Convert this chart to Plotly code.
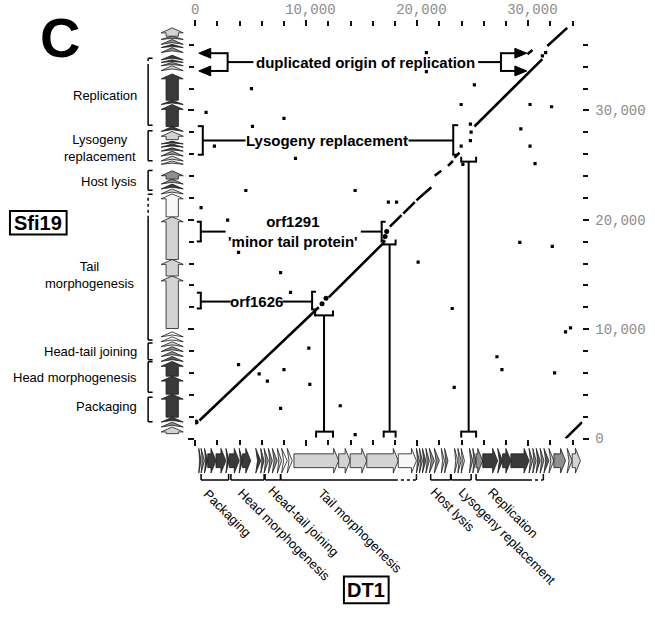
import plotly.graph_objects as go

W, H = 655, 622

# ---------------- data (base pairs) ----------------
# dot-plot matching segments: DT1 on x, Sfi19 on y
seg_dt1_start = [394, 12032, 17547, 18746, 19937, 21576, 22775, 23366, 25157, 29937, 31728, 33366]
seg_dt1_end = [11137, 16956, 18594, 19785, 21280, 22175, 23223, 23814, 31280, 30385, 33518, 34861]
seg_sfi_start = [1649, 12910, 19369, 20568, 21775, 24027, 24928, 25676, 28532, 35135, 35883, 0]
seg_sfi_end = [12009, 17865, 20423, 21622, 22973, 24477, 25378, 26126, 34685, 35523, 37541, 1505]

# isolated short matches
dot_dt1 = [20833, 20833, 5076, 25157, 985, 8004, 23966, 30170, 32113, 5166, 1737, 9042, 29338,
           30170, 30618, 4566, 14414, 537, 2927, 17404, 18147, 3912, 20089, 7699, 8594, 10242,
           3912, 5765, 8004, 6508, 10331, 7699, 13071, 14414, 32175, 33366, 33814, 32381, 29248,
           23161, 23339, 27189, 27637, 23966, 24799, 24861, 24799, 24118, 31280, 31575]
dot_sfi = [35288, 33541, 31982, 32342, 29820, 29279, 30541, 30541, 30333, 28532, 26730, 25613, 28315,
           26730, 25135, 22676, 22676, 21108, 19973, 21622, 21622, 17027, 16126, 15162, 13360, 8261,
           6757, 5919, 6306, 5252, 4955, 2766, 3000, 360, 17568, 9757, 10117, 6009, 17928,
           11892, 4685, 7477, 6306, 26730, 27234, 28018, 28739, 25072, 34982, 35288]
# strong short matches (blobs)
blob_dt1 = [90, 11432, 11791, 17252, 17117]
blob_sfi = [1505, 12315, 12820, 18919, 18468]

# axis ticks
x_tick_vals = [0, 10000, 20000, 30000]
x_tick_text = ["0", "\u00a010,000", "\u00a020,000", "\u00a030,000"]
y_tick_vals = [0, 10000, 20000, 30000]
y_tick_text = ["0", "10,000", "20,000", "30,000"]
minor_step = 2000
dt1_length = 34890
sfi_length = 37660

# DT1 gene map (all genes rightward)
dt1_gene_start = [331, 537, 842, 1137, 1880, 2775, 3080, 3975, 4270, 5461, 5909, 6213, 6598, 6956,
                  7404, 7789, 8299, 8899, 12928, 13966, 15461, 18299, 19937, 20206, 20474, 20788,
                  21101, 21549, 22176, 22471, 23366, 23670, 23966, 24709, 25013, 25309, 25909,
                  27251, 27699, 28442, 30081, 30412, 30725, 31083, 31424, 31871, 32319, 33518, 33966]
dt1_gene_end = [537, 842, 1137, 1880, 2775, 3080, 3975, 4270, 5013, 5909, 6213, 6598, 6956, 7404,
                7789, 8299, 8747, 12928, 13966, 15461, 18299, 19937, 20206, 20474, 20788, 21101,
                21549, 21997, 22471, 22776, 23670, 23966, 24261, 25013, 25309, 25909, 27251,
                27699, 28442, 30081, 30412, 30725, 31083, 31424, 31871, 32319, 33366, 33966, 34709]
dt1_gene_shade = ["M", "G", "D", "D", "D", "D", "D", "D", "D", "D", "M", "G", "G", "G",
                  "L", "W", "W", "L", "L", "L", "L", "W", "G", "G", "M", "G",
                  "G", "G", "L", "G", "L", "L", "L", "G", "G", "G", "D",
                  "D", "D", "D", "G", "G", "M", "G", "M", "L", "G", "L", "L"]

# Sfi19 gene map (all genes upward)
sfi_gene_start = [450, 1054, 1505, 1955, 4054, 5703, 7054, 7505, 7955, 8405, 8856, 9306, 10063,
                  14865, 16369, 20270, 22369, 22820, 23270, 23721, 25072, 25378, 25829, 26279,
                  26640, 26937, 27324, 28081, 28532, 30541, 30928, 33631, 34081, 34387, 34622,
                  35288, 35739, 36036, 36486, 36784]
sfi_gene_end = [1054, 1505, 1955, 4054, 5703, 7054, 7505, 7955, 8405, 8856, 9306, 9757, 14865,
                16369, 20270, 22369, 22820, 23270, 23721, 24477, 25378, 25829, 26279, 26577,
                26937, 27180, 28081, 28532, 30541, 30928, 33333, 34081, 34387, 34622, 35045,
                35739, 36036, 36486, 36784, 37541]
sfi_gene_shade = ["L", "G", "D", "D", "D", "D", "M", "G", "G", "L", "W", "W", "L",
                  "L", "L", "W", "L", "D", "G", "G", "L", "L", "G", "M",
                  "D", "D", "L", "D", "D", "D", "D", "L", "G", "D", "D",
                  "G", "D", "G", "G", "L"]

# functional modules
dt1_region_names = ["Packaging", "Head morphogenesis", "Head-tail joining", "Tail morphogenesis",
                    "Host lysis", "Lysogeny replacement", "Replication"]
dt1_region_start = [537, 3223, 6303, 7699, 21218, 23071, 25309]
dt1_region_end = [3017, 6213, 7699, 17995, 23008, 24862, 30080]
dt1_region_dotted_end = [None, None, None, 19937, None, None, 31370]

sfi_region_names = ["Packaging", "Head morphogenesis", "Head-tail joining", "Tail<br>morphogenesis",
                    "Host lysis", "Lysogeny<br>replacement", "Replication"]
sfi_region_start = [1532, 4234, 7207, 9009, 22703, 25405, 28649]
sfi_region_end = [3784, 7027, 8739, 20090, 24505, 28135, 33964]
sfi_region_dotted_end = [None, None, None, 22342, None, None, 34775]

# ---------------- styling / layout helpers ----------------
SHADE = {"D": "#3a3a3a", "M": "#5e5e5e", "G": "#8f8f8f", "L": "#d3d3d3", "W": "#f7f7f7"}
HEAD = 450
BODY = 0.28
FONT = "Liberation Sans"


def px(x):
    return x / W


def py(y):
    return 1 - y / H


def arrow_poly(s, e):
    L = e - s
    if L <= HEAD * 1.3:
        t = [s, e, s, s + 0.35 * L, s]
        u = [-0.5, 0, 0.5, 0, -0.5]
    else:
        h = e - HEAD
        t = [s, h, h, e, h, h, s, s]
        u = [-BODY, -BODY, -0.5, 0, 0.5, BODY, BODY, -BODY]
    return t, u


fig = go.Figure()

# genes DT1
for s, e, c in zip(dt1_gene_start, dt1_gene_end, dt1_gene_shade):
    t, u = arrow_poly(s, e)
    fig.add_trace(go.Scatter(x=t, y=u, xaxis="x", yaxis="y2", mode="lines", fill="toself",
                             fillcolor=SHADE[c], line=dict(color="#1c1c1c", width=0.8),
                             hoverinfo="skip"))
# genes Sfi19
for s, e, c in zip(sfi_gene_start, sfi_gene_end, sfi_gene_shade):
    t, u = arrow_poly(s, e)
    fig.add_trace(go.Scatter(x=u, y=t, xaxis="x2", yaxis="y", mode="lines", fill="toself",
                             fillcolor=SHADE[c], line=dict(color="#1c1c1c", width=0.8),
                             hoverinfo="skip"))

# diagonal matches
lx, ly = [], []
for a, b, c, d in zip(seg_dt1_start, seg_dt1_end, seg_sfi_start, seg_sfi_end):
    lx += [a, b, None]
    ly += [c, d, None]
fig.add_trace(go.Scatter(x=lx, y=ly, mode="lines", line=dict(color="black", width=2.6),
                         hoverinfo="skip"))
fig.add_trace(go.Scatter(x=dot_dt1, y=dot_sfi, mode="markers",
                         marker=dict(symbol="square", size=3.2, color="black"), hoverinfo="skip"))
fig.add_trace(go.Scatter(x=blob_dt1, y=blob_sfi, mode="markers",
                         marker=dict(symbol="circle", size=5, color="black"), hoverinfo="skip"))

shapes = []
annotations = []


def pline(x0, y0, x1, y1, w=2, dash="solid"):
    shapes.append(dict(type="line", xref="paper", yref="paper", x0=px(x0), y0=py(y0),
                       x1=px(x1), y1=py(y1), line=dict(color="black", width=w, dash=dash)))


def prect(x0, y0, x1, y1):
    shapes.append(dict(type="rect", xref="paper", yref="paper", x0=px(x0), y0=py(y0),
                       x1=px(x1), y1=py(y1), line=dict(color="black", width=2),
                       fillcolor="white"))


def ptri(tx, ty, direction):
    b = tx - 12 * direction
    path = "M {} {} L {} {} L {} {} Z".format(px(tx), py(ty), px(b), py(ty - 5), px(b), py(ty + 5))
    shapes.append(dict(type="path", xref="paper", yref="paper", path=path,
                       fillcolor="black", line=dict(color="black", width=1)))


def ptext(x, y, text, size=15, bold=True, xanchor="center"):
    annotations.append(dict(xref="paper", yref="paper", x=px(x), y=py(y), showarrow=False,
                            xanchor=xanchor, yanchor="middle", align="center",
                            text=("<b>%s</b>" % text) if bold else text,
                            font=dict(family=FONT, size=size, color="black")))


# --- duplicated origin of replication ---
for yy in (54, 72):
    ptri(196, yy, -1)
    pline(207, yy, 225, yy)
    ptri(526, yy, 1)
    pline(500, yy, 515, yy)
pline(225, 53, 225, 73)
pline(225, 63, 251, 63)
pline(477, 63, 500, 63)
pline(500, 53, 500, 73)
ptext(364, 63, "duplicated origin of replication")

# --- Lysogeny replacement ---
pline(200, 128, 200, 157); pline(195, 128, 201, 128); pline(195, 157, 201, 157)
pline(200, 142.5, 243, 142.5)
ptext(325, 142.5, "Lysogeny replacement")
pline(407, 142.5, 452, 142.5)
pline(452, 127, 452, 157); pline(451, 127, 457, 127); pline(451, 157, 457, 157)
pline(460, 164, 475, 164); pline(460, 159, 460, 165); pline(475, 159, 475, 165)
pline(467.5, 164, 467.5, 438)
pline(460, 438, 475, 438); pline(460, 437, 460, 444); pline(475, 437, 475, 444)

# --- orf1291 ---
pline(198, 225, 198, 245); pline(194, 225, 199, 225); pline(194, 245, 199, 245)
pline(198, 235, 223, 235)
ptext(291, 235, "orf1291<br>'minor tail protein'")
pline(359, 235, 380, 235)
pline(380, 225, 380, 245); pline(379, 225, 384, 225); pline(379, 245, 384, 245)
pline(382, 248, 394, 248); pline(382, 243, 382, 249); pline(394, 243, 394, 249)
pline(388, 248, 388, 438)
pline(382, 438, 394, 438); pline(382, 437, 382, 444); pline(394, 437, 394, 444)

# --- orf1626 ---
pline(198, 297, 198, 313); pline(194, 297, 199, 297); pline(194, 313, 199, 313)
pline(198, 306, 228, 306)
ptext(254, 306, "orf1626")
pline(280, 306, 310, 306)
pline(310, 296, 310, 314); pline(309, 296, 314, 296); pline(309, 314, 314, 314)
pline(313, 320, 331, 320); pline(313, 315, 313, 321); pline(331, 315, 331, 321)
pline(322, 320, 322, 438)
pline(314, 438, 331, 438); pline(314, 437, 314, 444); pline(331, 437, 331, 444)

# --- DT1 module brackets (data x) ---
BY, BT = py(487), py(481)
dt1_label_center = [(225, 521), (281.5, 542.5), (301.7, 529), (359, 539), (451.5, 516.7),
                    (506.7, 544), (511.7, 520)]
for name, s, e, de, (cx, cy) in zip(dt1_region_names, dt1_region_start, dt1_region_end,
                                     dt1_region_dotted_end, dt1_label_center):
    shapes.append(dict(type="line", xref="x", yref="paper", x0=s, x1=e, y0=BY, y1=BY,
                       line=dict(color="black", width=1.5)))
    ends = [s, e] if de is None else [s, de]
    for v in ends:
        shapes.append(dict(type="line", xref="x", yref="paper", x0=v, x1=v, y0=BT, y1=BY,
                           line=dict(color="black", width=1.5)))
    if de is not None:
        shapes.append(dict(type="line", xref="x", yref="paper", x0=e, x1=de, y0=BY, y1=BY,
                           line=dict(color="black", width=1.5, dash="dot")))
    annotations.append(dict(xref="paper", yref="paper", x=px(cx), y=py(cy), showarrow=False,
                            text=name, textangle=45, xanchor="center", yanchor="middle",
                            font=dict(family=FONT, size=13, color="black")))

# --- Sfi19 module brackets (data y) ---
BX, BR = px(145), px(149.5)
sfi_label_pos = [(136, 412, "right"), (136, 383, "right"), (136, 357, "right"), (86, 279, "center"),
                 (136, 184, "right"), (97, 150, "center"), (136, 97, "right")]
for name, s, e, de, (lx_, ly_, al) in zip(sfi_region_names, sfi_region_start, sfi_region_end,
                                          sfi_region_dotted_end, sfi_label_pos):
    shapes.append(dict(type="line", xref="paper", yref="y", x0=BX, x1=BX, y0=s, y1=e,
                       line=dict(color="black", width=1.5)))
    ends = [s, e] if de is None else [s, de]
    for v in ends:
        shapes.append(dict(type="line", xref="paper", yref="y", x0=BX, x1=BR, y0=v, y1=v,
                           line=dict(color="black", width=1.5)))
    if de is not None:
        shapes.append(dict(type="line", xref="paper", yref="y", x0=BX, x1=BX, y0=e, y1=de,
                           line=dict(color="black", width=1.5, dash="dot")))
    annotations.append(dict(xref="paper", yref="paper", x=px(lx_), y=py(ly_), showarrow=False,
                            text=name, xanchor=al, yanchor="middle", align="center",
                            font=dict(family=FONT, size=13, color="black")))

# --- titles ---
ptext(56, 38, "C", size=56)
prect(6, 214, 63, 238)
ptext(34.5, 226.5, "Sfi19", size=20)
prect(342, 585, 387, 612)
ptext(364.5, 598.5, "DT1", size=20)

tick_font = dict(family="Liberation Mono", size=14, color="#8c8c8c")
minor = dict(ticks="outside", tick0=0, dtick=minor_step, ticklen=5, tickwidth=2, tickcolor="#111")

fig.update_layout(
    width=W, height=H, autosize=False, showlegend=False,
    margin=dict(l=0, r=0, t=0, b=0),
    paper_bgcolor="white", plot_bgcolor="rgba(0,0,0,0)",
    xaxis=dict(domain=[px(192.3), px(582)], range=[0, dt1_length], side="top", anchor="y",
               showgrid=False, zeroline=False, showline=True, linecolor="rgba(0,0,0,0)",
               mirror="ticks", ticks="outside", ticklen=6, tickwidth=2, tickcolor="#111",
               tickvals=x_tick_vals, ticktext=x_tick_text, tickfont=tick_font, minor=minor,
               ticklabelstandoff=0, fixedrange=True),
    yaxis=dict(domain=[py(445), py(27)], range=[0, sfi_length], side="right", anchor="x",
               showgrid=False, zeroline=False, showline=True, linecolor="rgba(0,0,0,0)",
               mirror="ticks", ticks="outside", ticklen=6, tickwidth=2, tickcolor="#111",
               tickvals=y_tick_vals, ticktext=y_tick_text, tickfont=tick_font, minor=minor,
               ticklabelstandoff=3, fixedrange=True),
    yaxis2=dict(domain=[py(481), py(454)], range=[-0.54, 0.54], anchor="x", visible=False,
                fixedrange=True),
    xaxis2=dict(domain=[px(157.5), px(181)], range=[-0.53, 0.53], anchor="y", visible=False,
                fixedrange=True),
    shapes=shapes, annotations=annotations,
)

fig.write_html("out.html", config={"displayModeBar": False},
               post_script="document.body.style.margin='0px';")
